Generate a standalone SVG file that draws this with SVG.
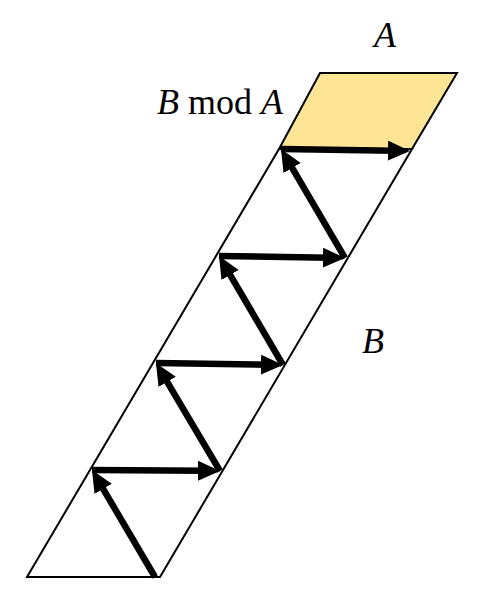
<svg xmlns="http://www.w3.org/2000/svg" width="479" height="592" viewBox="0 0 479 592">
<style>
.edge{fill:none;stroke:#000;stroke-width:2}
.arr{fill:none;stroke:#000;stroke-width:6.5;marker-end:url(#ah)}
.t{font-family:"Liberation Serif",serif;font-size:36px;fill:#000}
.i{font-style:italic}
</style>
<defs>
<marker id="ah" markerUnits="userSpaceOnUse" viewBox="0 0 22 20" markerWidth="22" markerHeight="20" refX="7" refY="10" orient="auto">
<path d="M0,0 L22,10 L0,20 z" fill="#000"/>
</marker>
</defs>
<g id="bigShape">
<polygon class="edge" points="27,577 160,577 412,149 279,149"/>
</g>
<g id="remainder">
<polygon points="279,149 320,73 457,73 412,149" fill="#fee596" stroke="#000" stroke-width="2"/>
</g>
<g id="connectors">
<path class="arr" d="M155,577 L99.6,482.9"/>
<path class="arr" d="M92,470 L205,470.8"/>
<path class="arr" d="M220,471 L163.6,375.9"/>
<path class="arr" d="M156,363 L268,364.8"/>
<path class="arr" d="M283,365 L226.6,268.9"/>
<path class="arr" d="M219,256 L330,257.8"/>
<path class="arr" d="M345,258 L288.6,161.9"/>
<path class="arr" d="M281,149 L395,150.8"/>
</g>
<g id="labels">
<text class="t i" x="374" y="47">A</text>
<text class="t" x="283" y="114" text-anchor="end"><tspan class="i">B</tspan> mod <tspan class="i">A</tspan></text>
<text class="t i" x="362" y="353">B</text>
</g>
</svg>
